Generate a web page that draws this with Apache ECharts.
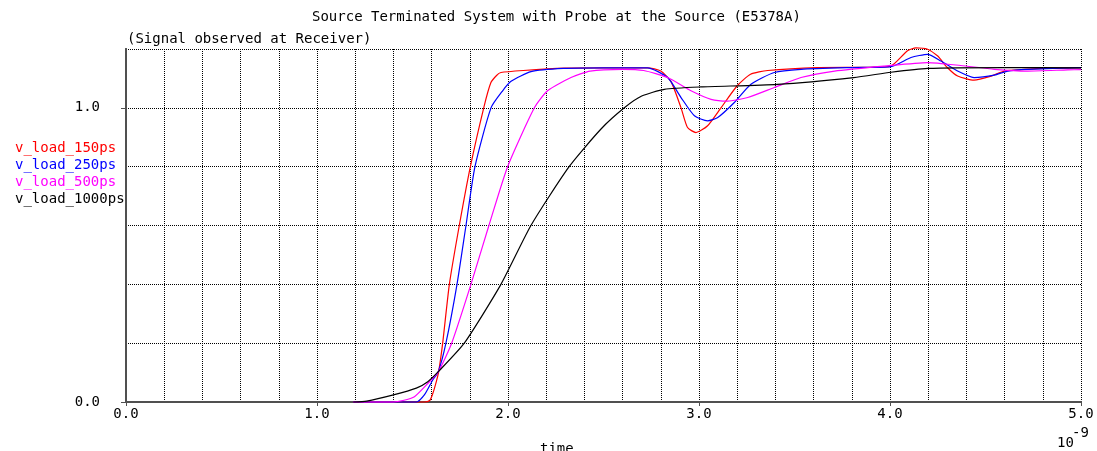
<!DOCTYPE html>
<html>
<head>
<meta charset="utf-8">
<script src="https://cdn.jsdelivr.net/npm/echarts@6/dist/echarts.min.js"></script>
<style>
html,body{margin:0;padding:0;background:#fff;}
#c{width:1097px;height:451px;}
</style>
</head>
<body>
<div id="c"></div>
<script>
// ---- data (time in ns, voltage) ----
var seriesNames = ['v_load_150ps', 'v_load_250ps', 'v_load_500ps', 'v_load_1000ps'];
var seriesColors = ['#ff0000', '#0000ff', '#ff00ff', '#000000'];

var v150 = [[1.19,0],[1.56,0],[1.59,0.005],[1.607,0.03],[1.625,0.07],[1.637,0.103],[1.658,0.2],[1.693,0.4],[1.745,0.6],[1.803,0.8],[1.873,1.0],[1.91,1.085],[1.94,1.11],[1.963,1.12],[2.08,1.127],[2.3,1.135],[2.5,1.136],[2.731,1.136],[2.80,1.125],[2.853,1.09],[2.906,1.0],[2.94,0.933],[2.984,0.916],[3.045,0.939],[3.115,1.0],[3.2,1.075],[3.27,1.114],[3.36,1.127],[3.62,1.137],[3.9,1.138],[4.005,1.142],[4.09,1.193],[4.136,1.204],[4.197,1.199],[4.25,1.176],[4.30,1.137],[4.354,1.108],[4.44,1.094],[4.53,1.108],[4.6,1.125],[4.81,1.134],[5.0,1.137]];

var v250 = [[1.19,0],[1.52,0],[1.562,0.024],[1.606,0.075],[1.635,0.103],[1.675,0.2],[1.733,0.4],[1.78,0.6],[1.827,0.8],[1.911,1.0],[1.972,1.058],[2.016,1.09],[2.12,1.123],[2.29,1.134],[2.5,1.136],[2.73,1.136],[2.836,1.103],[2.906,1.035],[2.976,0.973],[3.045,0.956],[3.098,0.967],[3.185,1.018],[3.272,1.08],[3.394,1.12],[3.534,1.131],[3.8,1.137],[4.005,1.14],[4.11,1.171],[4.197,1.182],[4.267,1.159],[4.354,1.125],[4.44,1.103],[4.546,1.111],[4.616,1.125],[4.72,1.131],[5.0,1.137]];

var v500 = [[1.19,0],[1.40,0],[1.45,0.005],[1.51,0.018],[1.58,0.063],[1.635,0.103],[1.705,0.2],[1.806,0.4],[1.90,0.6],[1.998,0.8],[2.138,1.0],[2.207,1.058],[2.33,1.103],[2.43,1.125],[2.6,1.131],[2.71,1.127],[2.836,1.103],[2.958,1.058],[3.063,1.029],[3.15,1.023],[3.255,1.035],[3.394,1.069],[3.534,1.103],[3.71,1.125],[3.97,1.142],[4.197,1.154],[4.37,1.144],[4.546,1.131],[4.72,1.125],[4.93,1.129],[5.0,1.13]];

var v1000 = [[1.19,0],[1.26,0.003],[1.40,0.024],[1.52,0.047],[1.58,0.069],[1.635,0.103],[1.771,0.2],[1.963,0.4],[2.12,0.6],[2.32,0.8],[2.487,0.928],[2.609,1.0],[2.70,1.04],[2.818,1.063],[3.01,1.071],[3.41,1.08],[3.81,1.103],[4.005,1.121],[4.197,1.134],[4.6,1.137],[5.0,1.136]];

var seriesData = [v150, v250, v500, v1000];
var xTickLabels = ['0.0','1.0','2.0','3.0','4.0','5.0'];
var yTickLabels = ['0.0','1.0'];

var FONT = 'DejaVu Sans Mono';
var chart = echarts.init(document.getElementById('c'), null, {renderer:'canvas'});

var gridLine = {show:true, lineStyle:{color:'#000', width:1, type:[1,1]}};
var axisLn = {show:true, onZero:false, lineStyle:{color:'#505050', width:2}};
var ts = {fontFamily:FONT, fontSize:14, fontWeight:'normal', color:'#000'};

var option = {
  animation:false,
  backgroundColor:'#fff',
  title:[
    {text:'Source Terminated System with Probe at the Source (E5378A)', left:312, top:10, padding:0, textStyle:ts},
    {text:'(Signal observed at Receiver)', left:127, top:32, padding:0, textStyle:ts},
    {text:'time', left:540, top:442, padding:0, textStyle:ts},
    {text:'10', left:1057, top:436, padding:0, textStyle:ts},
    {text:'-9', left:1072, top:426, padding:0, textStyle:ts}
  ],
  legend:{
    orient:'vertical', left:10, top:141, icon:'none', itemWidth:0, itemHeight:14, itemGap:3,
    selectedMode:false, padding:0,
    textStyle:{fontFamily:FONT, fontSize:14},
    data: seriesNames.map(function(n,i){return {name:n, textStyle:{color:seriesColors[i]}};})
  },
  grid:{left:126, right:16, top:49, bottom:49, containLabel:false},
  xAxis:[
    {type:'value', min:0, max:5, interval:0.2, position:'bottom',
     axisLine:axisLn, axisTick:{show:false}, axisLabel:{show:false}, splitLine:gridLine},
    {type:'value', min:0, max:5, interval:1, position:'bottom',
     axisLine:axisLn, axisTick:{show:true, length:4, lineStyle:{color:'#505050'}},
     axisLabel:{show:true, margin:5, fontFamily:FONT, fontSize:14, color:'#000',
       formatter:function(v){var i=Math.round(v); return Math.abs(v-i)<1e-6 && i>=0 && i<xTickLabels.length ? xTickLabels[i] : '';}},
     splitLine:{show:false}}
  ],
  yAxis:[
    {type:'value', min:0, max:1.2, interval:0.2, position:'left',
     axisLine:axisLn, axisTick:{show:false}, axisLabel:{show:false}, splitLine:gridLine},
    {type:'value', min:0, max:1.2, interval:1, position:'left',
     axisLine:axisLn, axisTick:{show:true, length:5, lineStyle:{color:'#505050'}},
     axisLabel:{show:true, margin:26, fontFamily:FONT, fontSize:14, color:'#000', showMaxLabel:false,
       formatter:function(v){var i=Math.round(v); return Math.abs(v-i)<1e-6 && i<yTickLabels.length ? yTickLabels[i] : '';}},
     splitLine:{show:false}}
  ],
  series: seriesNames.map(function(n,i){
    return {name:n, type:'line', xAxisIndex:0, yAxisIndex:0, data:seriesData[i],
      showSymbol:false, symbol:'none', smooth:0.2, clip:false,
      lineStyle:{color:seriesColors[i], width:1.2}, itemStyle:{color:seriesColors[i]}};
  })
};
chart.setOption(option);
</script>
</body>
</html>
